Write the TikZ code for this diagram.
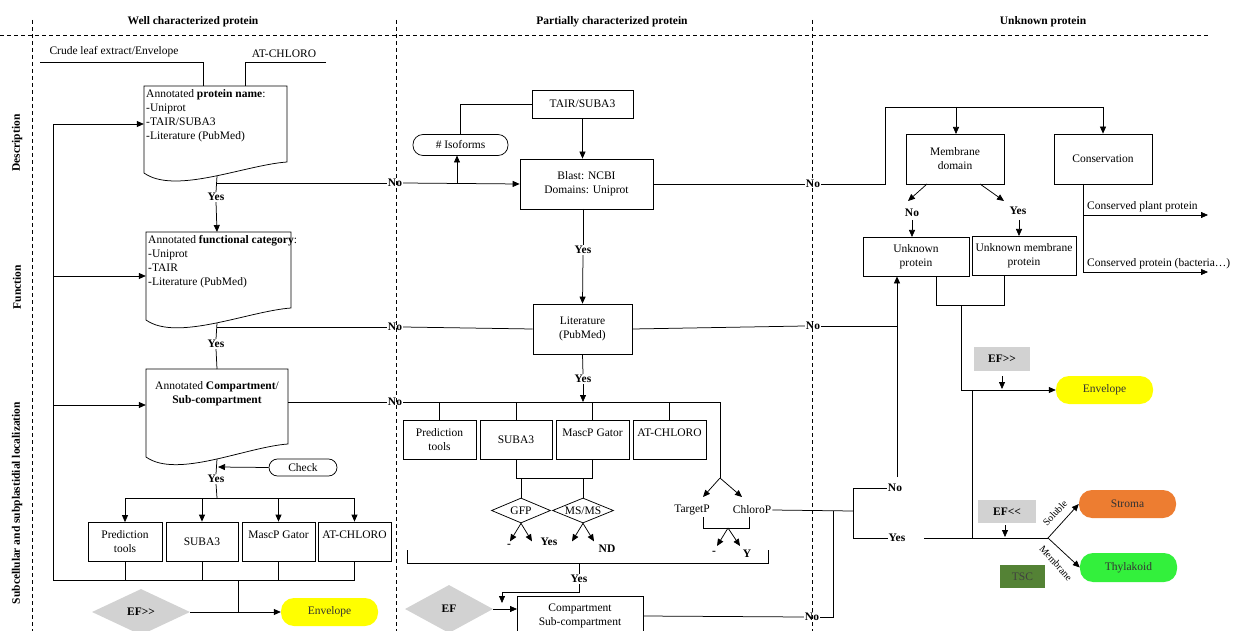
\documentclass[tikz,border=0pt]{standalone}
\usepackage{fontspec}
\setmainfont{Liberation Serif}
\newfontfamily\nolig{Liberation Serif}
\usetikzlibrary{arrows.meta,shapes.geometric}
\definecolor{efgrey}{RGB}{210,210,210}
\definecolor{yel}{RGB}{255,255,0}
\definecolor{orng}{RGB}{237,125,49}
\definecolor{grn}{RGB}{51,240,60}
\definecolor{tscg}{RGB}{84,130,53}
\begin{document}
\begin{tikzpicture}[x=1pt,y=-1pt,
 every node/.style={font=\fontsize{11.5}{14}\selectfont, inner sep=1pt},
 ln/.style={draw=black, line width=0.75pt},
 arr/.style={ln, -{Triangle[length=7pt,width=6pt]}},
 box/.style={draw=black, line width=0.75pt, inner sep=1pt, align=center},
 lbl/.style={font=\fontsize{11.5}{14}\selectfont\bfseries},
 sepline/.style={draw=black, line width=0.7pt, dash pattern=on 4pt off 3pt},
 doc/.style={draw=black, line width=0.75pt},
 pillbox/.style={rounded corners=13pt, inner sep=0pt, align=center, text=black!80},
 stadium/.style={draw=black, line width=0.75pt, rounded corners=8.5pt, inner sep=0pt},
 grydia/.style={diamond, fill=efgrey, draw=none, inner sep=0pt},
 gfpdia/.style={diamond, draw=black, line width=0.75pt, inner sep=0pt},
 efbox/.style={fill=efgrey, inner sep=0pt},
]
\useasboundingbox (0,0) rectangle (1234,631);
\fill[white] (0,0) rectangle (1234,631);

% ---------- headers and separators ----------
\node[lbl] (h1) at (193,22) {Well characterized protein};
\node[lbl] (h2) at (612,22) {Partially characterized protein};
\node[lbl] (h3) at (1043,22) {Unknown protein};
\draw[sepline] (0,35) -- (1210,35);
\draw[sepline] (32,20) -- (32,631);
\draw[sepline] (396,20) -- (396,631);
\draw[sepline] (812,20) -- (812,631);
\node[lbl,rotate=90] (r1) at (17,143) {Description};
\node[lbl,rotate=90] (r2) at (17,287) {Function};
\node[lbl,rotate=90] (r3) at (17,503) {Subcellular and subplastidial localization};

% ---------- left column ----------
\node (crude) at (114,52) {Crude leaf extract/Envelope};
\node (atc0) at (284,54) {AT-CHLORO};
\coordinate (c1) at (40,62);
\coordinate (c2) at (326,62);

\node[minimum width=143pt, minimum height=76pt, inner sep=0pt] (d1) at (215.5,124) {};
\draw[doc] (144,86) -- (287,86) -- (287,162) .. controls (245,165) and (175,195) .. (144,173) -- cycle;
\node[anchor=north west, align=left] (t1) at (145,88) {Annotated \textbf{protein name}:\\-Uniprot\\-TAIR/SUBA3\\-Literature (PubMed)};

\node[minimum width=145pt, minimum height=88pt, inner sep=0pt] (d2) at (218.5,276) {};
\draw[doc] (146,232) -- (291,232) -- (291,308) .. controls (249,311) and (177,342) .. (146,320) -- cycle;
\node[anchor=north west, align=left] (t2) at (147,234) {Annotated \textbf{functional category}:\\-Uniprot\\-TAIR\\-Literature (PubMed)};

\node[minimum width=142pt, minimum height=72pt, inner sep=0pt] (d3) at (217,405) {};
\draw[doc] (146,369) -- (288,369) -- (288,444) .. controls (246,447) and (177,479) .. (146,457) -- cycle;
\node[align=center] (t3) at (217,394) {Annotated \textbf{Compartment}/\\\textbf{Sub-compartment}};

\draw[ln] (c1) -| ([xshift=-12.5pt]d1.north);
\draw[ln] (c2) -| ([xshift=29.5pt]d1.north);

\coordinate (fbB) at (53,580);
\draw[arr] (fbB) -- (53,124) -- (d1.west);
\draw[arr] (53,276) -- (d2.west);
\draw[arr] (53,405) -- (d3.west);

\node[lbl] (y1) at (216,197) {Yes};
\draw[ln] (217,176) -- (y1.north);
\draw[arr] (y1.south) -- (217,232);
\node[lbl] (y2) at (216,344) {Yes};
\draw[ln] (217,323) -- (y2.north);
\draw[ln] (y2.south) -- (217,369);
\node[lbl] (y3) at (216,479) {Yes};
\draw[ln] (217,459) -- (y3.north);

\node[stadium, minimum width=68pt, minimum height=17pt] (check) at (303,467.5) {Check};
\draw[arr] (check.west) -- (218,467);

\node[box, minimum width=74pt, minimum height=39pt] (pt1) at (125,542) {Prediction\\tools};
\node[box, minimum width=72pt, minimum height=39pt] (sb1) at (202,541.5) {SUBA3};
\node[box, minimum width=73pt, minimum height=39pt] (mg1) at (278.5,541.5) {MascP Gator\\\mbox{}};
\node[box, minimum width=73pt, minimum height=39pt] (ac1) at (354.5,541.5) {AT-CHLORO\\\mbox{}};

\coordinate (j1) at (217,498);
\draw[ln] (y3.south) -- (j1);
\draw[ln] (pt1.north |- j1) -- (ac1.north |- j1);
\draw[arr] (pt1.north |- j1) -- (pt1.north);
\draw[arr] (sb1.north |- j1) -- (sb1.north);
\draw[arr] (mg1.north |- j1) -- (mg1.north);
\draw[arr] (ac1.north |- j1) -- (ac1.north);
\draw[ln] (fbB) -- (ac1.south |- fbB);
\draw[ln] (pt1.south) -- (pt1.south |- fbB);
\draw[ln] (sb1.south) -- (sb1.south |- fbB);
\draw[ln] (mg1.south) -- (mg1.south |- fbB);
\draw[ln] (ac1.south) -- (ac1.south |- fbB);

\node[grydia, minimum width=98pt, minimum height=46pt] (ef1) at (141,612) {};
\node[lbl] (ef1t) at (141,612) {\nolig\bfseries EF>>};
\node[pillbox, fill=yel, minimum width=97pt, minimum height=28pt] (env1) at (329.5,612) {Envelope};
\coordinate (j2) at (238,612);
\draw[ln] (238,580) -- (j2);
\draw[arr] (ef1.east) -- (env1.west);

% ---------- middle column ----------
\node[lbl] (n1) at (395,183) {No};
\draw[ln] (217,183) -- (n1.west);
\node[box, minimum width=133pt, minimum height=50pt] (blast) at (586.5,184) {Blast: NCBI\\Domains: Uniprot};
\draw[arr] (n1.east) -- (blast.west);
\node[stadium, minimum width=95pt, minimum height=21pt, rounded corners=10pt] (iso) at (460.5,145) {\# Isoforms};
\node[box, minimum width=101pt, minimum height=28pt] (tair) at (582.5,104) {TAIR/SUBA3};
\draw[arr] (457,184) -- (457,155.5);
\draw[ln] (tair.west) -| (iso.north);
\draw[arr] (tair.south) -- (tair.south |- blast.north);

\node[lbl] (y4) at (583,250) {Yes};
\node[box, minimum width=99pt, minimum height=50pt] (lit) at (582.5,329) {Literature\\(PubMed)};
\draw[ln] (583,209) -- (y4.north);
\draw[arr] (y4.south) -- (lit.north);

\node[lbl] (n2) at (395,327) {No};
\draw[ln] (217,327) -- (n2.west);
\draw[ln] (n2.east) -- (lit.west);

\node[lbl] (n3) at (395,402) {No};
\draw[ln] (288,402) -- (n3.west);
\coordinate (brk) at (720,402);
\coordinate (tp) at (720,478);
\draw[ln] (n3.east) -- (brk) -- (tp);

\node[lbl] (y5) at (583,379) {Yes};
\draw[ln] (lit.south) -- (y5.north);
\draw[arr] (y5.south) -- (583,402);

\node[box, minimum width=73pt, minimum height=39pt] (pt2) at (439.5,439.5) {Prediction\\tools};
\node[box, minimum width=72pt, minimum height=39pt] (sb2) at (516,439.5) {SUBA3};
\node[box, minimum width=73pt, minimum height=39pt] (mg2) at (592.5,439.5) {MascP Gator\\\mbox{}};
\node[box, minimum width=73pt, minimum height=39pt] (ac2) at (669.5,439.5) {AT-CHLORO\\\mbox{}};
\draw[ln] (pt2.north) -- (pt2.north |- brk);
\draw[ln] (sb2.north) -- (sb2.north |- brk);
\draw[ln] (mg2.north) -- (mg2.north |- brk);
\draw[ln] (ac2.north) -- (ac2.north |- brk);

\node[gfpdia, minimum width=59pt, minimum height=25pt] (gfp) at (521,510.5) {};
\node (gfpt) at (521,510.5) {GFP};
\node[gfpdia, minimum width=61pt, minimum height=25pt] (msms) at (583,510.5) {};
\node (mst) at (583,510.5) {MS/MS};
\coordinate (j3) at (516,478);
\draw[ln] (sb2.south) -- (j3) -| (mg2.south);
\draw[ln] (gfp.north |- j3) -- (gfp.north);
\draw[ln] (msms.north |- j3) -- (msms.north);
\draw[arr] (gfp.south) -- ++(-11,18);
\draw[arr] (gfp.south) -- ++(11,18);
\draw[arr] (msms.south) -- ++(-11,18);
\draw[arr] (msms.south) -- ++(11,18);
\node[lbl] (gm) at (509,546) {-};
\node[lbl] (gy) at (549,542) {Yes};
\node[lbl] (mnd) at (607,549) {ND};

\node (targetp) at (692,510) {TargetP};
\node (chlorop) at (752,510) {ChloroP};
\draw[arr] (tp) -- (703,497);
\draw[arr] (tp) -- (742,497);
\coordinate (tj) at (728,528);
\draw[ln] (703,517) -- (703,528) -- (749,528) -- (749,517);
\draw[arr] (tj) -- (717,546);
\draw[arr] (tj) -- (740,546);
\node[lbl] (tm) at (714,553) {-};
\node[lbl] (ty) at (747,554) {Y};

\coordinate (bj) at (579,563);
\draw[ln] (407,550) -- (407,563) -- (768,563) -- (768,550);
\node[lbl] (y6) at (579,579) {Yes};
\draw[ln] (bj) -- (y6.north);
\node[box, minimum width=126pt, minimum height=40pt] (comp) at (580,616) {Compartment\\Sub-compartment};
\draw[arr] (y6.south) -- (579,592) -- (502,592) -- (502,603);
\node[grydia, minimum width=88pt, minimum height=48pt] (ef2) at (449,609) {};
\node[lbl] (ef2t) at (449,609) {EF};
\draw[arr] (ef2.east) -- (517,609);

% ---------- right column ----------
\node[lbl] (n4) at (813,184) {No};
\draw[ln] (blast.east) -- (n4.west);
\coordinate (rt) at (885,107);
\node[box, minimum width=98pt, minimum height=50pt] (mem) at (955,159) {Membrane\\domain};
\node[box, minimum width=98pt, minimum height=50pt] (cons) at (1103,159) {Conservation};
\draw[ln] (n4.east) -- (885,184) -- (rt) -- (cons.north |- rt);
\draw[arr] (cons.north |- rt) -- (cons.north);
\draw[arr] (956,107) -- (956,134);

\draw[arr] (927,184) -- (908,201);
\draw[arr] (980,184) -- (1004,201);
\node[lbl] (mno) at (912,213) {No};
\node[lbl] (myes) at (1018,211) {Yes};
\node[box, minimum width=106pt, minimum height=39pt] (unk) at (916,256.5) {Unknown\\protein};
\node[box, minimum width=104pt, minimum height=39pt] (unkm) at (1024,255.5) {Unknown membrane\\protein};
\draw[arr] (912,220) -- (912,237);
\draw[arr] (1019,220) -- (1019,236);

\coordinate (cv) at (1083,184);
\draw[ln] (cv) -- (1083,272);
\coordinate (cp1) at (1208,215);
\coordinate (cp2) at (1208,272);
\draw[arr] (1083,215) -- (cp1);
\draw[arr] (1083,272) -- (cp2);
\node[anchor=west] (cpt1) at (1086,207) {Conserved plant protein};
\node[anchor=west] (cpt2) at (1086,264) {Conserved protein (bacteria…)};

\coordinate (uj) at (961,305);
\draw[ln] (936,276) -- (936,305) -- (1004,305) -- (1004,275);
\node[pillbox, fill=yel, minimum width=97pt, minimum height=28pt] (env2) at (1104.5,390) {Envelope};
\draw[arr] (uj) -- (961,390) -- (env2.west);
\node[efbox, minimum width=56pt, minimum height=24pt] (ef3) at (1002,359) {\nolig\bfseries EF>>};
\draw[arr] (1002,376) -- (1002,389);
\draw[ln] (972,390) -- (972,538);

\node[lbl] (n5) at (813,326) {No};
\draw[ln] (lit.east) -- (n5.west);
\draw[ln] (n5.east) -- (897,326);

\node[lbl] (n6) at (812,617) {No};
\draw[ln] (comp.east) -- (n6.west);
\draw[ln] (n6.east) -- (833,617) -- (833,511);
\coordinate (cj) at (853,511);
\draw[ln] (chlorop.east) -- (cj);
\node[lbl] (uno) at (895,488) {No};
\node[lbl] (uyes) at (897,538) {Yes};
\draw[ln] (uno.west) -| (cj) |- (uyes.west);
\draw[arr] (897,477) -- (unk.south -| 897,0);

\coordinate (sj) at (1048,538);
\draw[ln] (924,538) -- (sj);
\node[efbox, minimum width=58pt, minimum height=23pt] (ef4) at (1007,511.5) {\nolig\bfseries EF<<};
\draw[arr] (1005,525) -- (1005,537);
\node[pillbox, fill=orng, minimum width=97pt, minimum height=28pt] (stroma) at (1127.5,504) {Stroma};
\node[pillbox, fill=grn, minimum width=97pt, minimum height=29pt] (thyl) at (1128.5,567.5) {Thylakoid};
\draw[arr] (sj) -- (stroma.west);
\draw[arr] (sj) -- (thyl.west);
\node[rotate=47, inner sep=0pt, font=\fontsize{10}{11}\selectfont] (sol) at (1055,513) {Soluble};
\node[rotate=-48, inner sep=0pt, font=\fontsize{10}{11}\selectfont] (memb) at (1056,563) {Membrane};
\node[fill=tscg, minimum width=45pt, minimum height=23pt, inner sep=0pt, text=black!75] (tsc) at (1022.5,576.5) {TSC};
\end{tikzpicture}
\end{document}
